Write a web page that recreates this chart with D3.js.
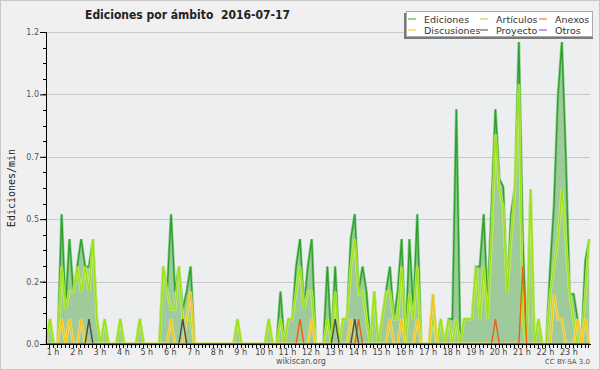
<!DOCTYPE html>
<html><head><meta charset="utf-8">
<script src="https://cdn.jsdelivr.net/npm/d3@7"></script>
<style>html,body{margin:0;padding:0;background:#f0f0f0;}svg{display:block;}</style>
</head><body>
<svg id="chart" width="600" height="370"></svg>
<script>
// ---- data (10-minute bins, first bin at 00:42) ----
const startMinute = 42;
const stepMinutes = 10;
const ediciones = [0,0.1,0,0,0.52,0.14,0.42,0.21,0.31,0.42,0.31,0.31,0.42,0.1,0,0.1,0,0,0,0.1,
0,0,0,0,0.1,0,0,0,0,0,0.31,0.21,0.52,0.21,0.31,0.14,0.21,0.31,0,0,
0,0,0,0,0,0,0,0,0,0.1,0,0,0,0,0,0,0,0.1,0,0,
0.21,0,0.1,0.1,0.31,0.42,0.14,0.31,0.42,0,0,0,0.31,0,0.31,0,0.1,0.1,0.42,0.52,
0.21,0.31,0.21,0,0.21,0,0.1,0.21,0.31,0.1,0.21,0.42,0,0.42,0.13,0.52,0,0,0,0.2,
0,0.1,0,0.1,0.1,0.94,0,0.1,0.1,0.1,0.31,0.31,0.52,0.15,0.55,0.94,0.66,0.63,0.2,0.52,
0.63,1.21,0.42,0,0.62,0,0.1,0,0,0.3,0.56,0.99,1.21,0.75,0.2,0.2,0.1,0,0.33,0.42];
const articulos = [0,0.1,0,0,0.31,0.14,0.21,0.21,0.31,0.21,0.31,0.21,0.42,0.1,0,0.1,0,0,0,0.1,
0,0,0,0,0.1,0,0,0,0,0,0.31,0.21,0.14,0.14,0.31,0.1,0.1,0.1,0,0,
0,0,0,0,0,0,0,0,0,0.1,0,0,0,0,0,0,0,0.1,0,0,
0.1,0,0.1,0.1,0.21,0.31,0.14,0.21,0.21,0,0,0,0.1,0,0.21,0,0.1,0.1,0.31,0.42,
0.2,0.21,0.1,0,0.21,0,0.1,0.21,0.21,0.1,0.1,0.31,0,0.2,0.1,0.31,0,0,0,0.1,
0,0.1,0,0.1,0,0.1,0,0.1,0.1,0.1,0.31,0.1,0.31,0.1,0.42,0.84,0.62,0.55,0.2,0.42,
0.63,1.04,0.1,0,0.62,0,0.1,0,0,0.2,0.31,0.42,0.62,0.42,0.2,0.1,0,0,0.2,0.42];
const discusiones = [0,0,0,0,0.1,0,0.1,0,0,0.1,0,0,0,0,0,0,0,0,0,0,
0,0,0,0,0,0,0,0,0,0,0,0,0.1,0,0,0,0.1,0.21,0,0,
0,0,0,0,0,0,0,0,0,0,0,0,0,0,0,0,0,0,0,0,
0,0,0,0,0,0,0,0,0.1,0,0,0,0,0,0,0,0,0,0.1,0,
0,0,0,0,0,0,0,0,0.1,0,0,0.1,0,0,0,0.1,0,0,0,0.2,
0,0,0,0,0,0,0,0,0,0,0,0,0,0,0,0,0,0,0,0,
0,0,0,0,0,0,0,0,0,0,0.2,0.1,0.1,0,0,0,0.1,0,0.1,0];
const anexos = [0,0,0,0,0,0,0,0,0,0,0,0,0,0,0,0,0,0,0,0,
0,0,0,0,0,0,0,0,0,0,0,0,0,0,0,0,0,0,0,0,
0,0,0,0,0,0,0,0,0,0,0,0,0,0,0,0,0,0,0,0,
0,0,0,0,0,0.1,0,0,0,0,0,0,0,0,0,0,0,0,0,0,
0.1,0,0,0,0,0,0,0,0,0,0,0,0,0,0,0,0,0,0,0,
0,0,0,0,0,0,0,0,0,0,0,0,0,0,0,0.1,0,0,0,0,
0,0,0.31,0,0,0,0,0,0,0,0,0,0,0,0,0,0,0,0,0];
const proyecto = [0,0,0,0,0,0,0,0,0,0,0,0.1,0,0,0,0,0,0,0,0,
0,0,0,0,0,0,0,0,0,0,0,0,0,0,0,0.1,0,0,0,0,
0,0,0,0,0,0,0,0,0,0,0,0,0,0,0,0,0,0,0,0,
0,0,0,0,0,0,0,0,0,0,0,0,0,0,0.1,0,0,0,0,0.1,
0,0,0,0,0,0,0,0,0,0,0,0,0,0,0,0,0,0,0,0,
0,0,0,0,0,0,0,0,0,0,0,0,0,0,0,0,0,0,0,0,
0,0,0,0,0,0,0,0,0,0,0,0,0,0,0,0,0,0,0,0];
const otros = [0,0,0,0,0,0,0,0,0,0,0,0,0,0,0,0,0,0,0,0,
0,0,0,0,0,0,0,0,0,0,0,0,0,0,0,0,0,0,0,0,
0,0,0,0,0,0,0,0,0,0,0,0,0,0,0,0,0,0,0,0,
0,0,0,0,0,0,0,0,0,0,0,0,0,0,0,0,0,0,0,0,
0,0,0,0,0,0,0,0,0,0,0,0,0,0,0,0,0,0,0,0,
0,0,0,0,0,0,0,0,0,0,0,0,0,0,0,0,0,0,0,0,
0,0,0,0,0,0,0,0,0,0,0,0,0,0,0,0,0,0,0,0];
const seriesNames = ["Ediciones","Artículos","Anexos","Discusiones","Proyecto","Otros"];
const seriesColors = ["#2fa02f","#9ee014","#f06010","#f5c518","#4a4a4a","#9933ee"];
const haloColors = ["#7cc87c","#d2f56a",null,"#fae38a",null,null];
const hourLabels = ["1 h","2 h","3 h","4 h","5 h","6 h","7 h","8 h","9 h","10 h","11 h","12 h",
"13 h","14 h","15 h","16 h","17 h","18 h","19 h","20 h","21 h","22 h","23 h"];
const yTickValues = [0,0.25,0.5,0.75,1.0,1.25];
const yTickLabels = ["0.0","0.2","0.5","0.7","1.0","1.2"];
const titleText = "Ediciones por ámbito\u00a0\u00a02016-07-17";
const yAxisTitle = "Ediciones/min";

// ---- drawing ----
const svg = d3.select("#chart");
const L = 46, R = 590, T = 32, B = 344;
const times = ediciones.map((_, i) => startMinute + i * stepMinutes);
const x = d3.scaleLinear().domain([42, 1434]).range([L, R]);
const y = d3.scaleLinear().domain([0, 1.25]).range([B, T]);

svg.append("rect").attr("width",600).attr("height",370).attr("fill","#f0f0f0");
svg.append("rect").attr("x",0.5).attr("y",0.5).attr("width",599).attr("height",369)
  .attr("fill","none").attr("stroke","#c8c8c8");
svg.append("rect").attr("x",L).attr("y",T).attr("width",R-L).attr("height",B-T).attr("fill","#eceef0");

// grid
svg.append("g").selectAll("line").data(yTickValues.slice(1)).join("line")
  .attr("x1",L).attr("x2",R).attr("y1",d=>Math.round(y(d))+0.5).attr("y2",d=>Math.round(y(d))+0.5)
  .attr("stroke","#c8c8c8").attr("stroke-width",1);

// area
const area = d3.area().x((d,i)=>x(times[i])).y0(y(0)).y1(d=>y(d));
svg.append("path").datum(ediciones).attr("d",area).attr("fill","#9fcb9c");

const line = d3.line().x((d,i)=>x(times[i])).y(d=>y(d));
const drawOrder = [[ediciones,0],[articulos,1],[discusiones,3],[anexos,2],[proyecto,4],[otros,5]];
drawOrder.forEach(([vals,ci])=>{
  if (haloColors[ci]) {
    svg.append("path").datum(vals).attr("d",line).attr("fill","none")
      .attr("stroke",haloColors[ci]).attr("stroke-width",2.8).attr("stroke-opacity",0.8);
  }
  svg.append("path").datum(vals).attr("d",line).attr("fill","none")
    .attr("stroke",seriesColors[ci]).attr("stroke-width",1.4);
});

// axes
const yAxis = d3.axisLeft(y).tickValues(yTickValues).tickSize(6)
  .tickFormat((d,i)=>yTickLabels[i]);
const gy = svg.append("g").attr("transform",`translate(${L},0)`).call(yAxis);
gy.select(".domain").remove();
gy.selectAll("line").attr("stroke","#000");
gy.selectAll("text").attr("font-family","DejaVu Sans").attr("font-size",8).attr("fill","#555").attr("x",-7);
const minorY = d3.range(0, 1.25001, 0.0625);
svg.append("g").selectAll("line").data(minorY).join("line")
  .attr("x1",L-3).attr("x2",L).attr("y1",d=>Math.round(y(d))+0.5).attr("y2",d=>Math.round(y(d))+0.5)
  .attr("stroke","#000");
svg.append("line").attr("x1",L+0.5).attr("x2",L+0.5).attr("y1",T).attr("y2",B+1).attr("stroke","#000");
svg.append("line").attr("x1",L).attr("x2",R+1).attr("y1",B+0.5).attr("y2",B+0.5).attr("stroke","#000");

// x ticks
const minorX = d3.range(50, 1434, 10);
svg.append("g").selectAll("line").data(minorX).join("line")
  .attr("x1",d=>Math.round(x(d))+0.5).attr("x2",d=>Math.round(x(d))+0.5).attr("y1",B).attr("y2",B+4)
  .attr("stroke","#000");
svg.append("g").selectAll("text").data(hourLabels).join("text")
  .attr("x",(d,i)=>x((i+1)*60)).attr("y",B+11).attr("text-anchor","middle")
  .attr("font-family","DejaVu Sans").attr("font-size",8).attr("fill","#444").text(d=>d);

// titles
svg.append("text").attr("x",85).attr("y",19).attr("font-family","DejaVu Sans").attr("font-weight","bold")
  .attr("font-size",12).attr("textLength",205).attr("lengthAdjust","spacingAndGlyphs").attr("fill","#222").text(titleText);
svg.append("text").attr("transform","translate(15,188) rotate(-90)").attr("text-anchor","middle")
  .attr("font-family","DejaVu Sans Mono").attr("font-size",10).attr("fill","#222").text(yAxisTitle);
svg.append("text").attr("x",301).attr("y",364).attr("text-anchor","middle").attr("font-family","DejaVu Sans")
  .attr("font-size",8).attr("fill","#555").text("wikiscan.org");
svg.append("text").attr("x",590).attr("y",364).attr("text-anchor","end").attr("font-family","DejaVu Sans")
  .attr("font-size",7).attr("fill","#555").text("CC BY-SA 3.0");

// legend
const lg = svg.append("g");
lg.append("rect").attr("x",404).attr("y",13).attr("width",189).attr("height",26).attr("fill","#7a7a7a");
lg.append("rect").attr("x",406.5).attr("y",11.5).attr("width",186).attr("height",25).attr("fill","#fff").attr("stroke","#aaa");
const legendPos = [[408,19],[480,19],[539,19],[408,30],[480,30],[539,30]];
seriesNames.forEach((n,i)=>{
  const [lx,ly] = legendPos[i];
  lg.append("line").attr("x1",lx).attr("x2",lx+8).attr("y1",ly).attr("y2",ly).attr("stroke",seriesColors[i]).attr("stroke-width",1);
  lg.append("text").attr("x",lx+16).attr("y",ly+3.5).attr("font-family","DejaVu Sans").attr("font-size",9.5)
    .attr("fill","#333").text(n);
});
</script>
</body></html>
